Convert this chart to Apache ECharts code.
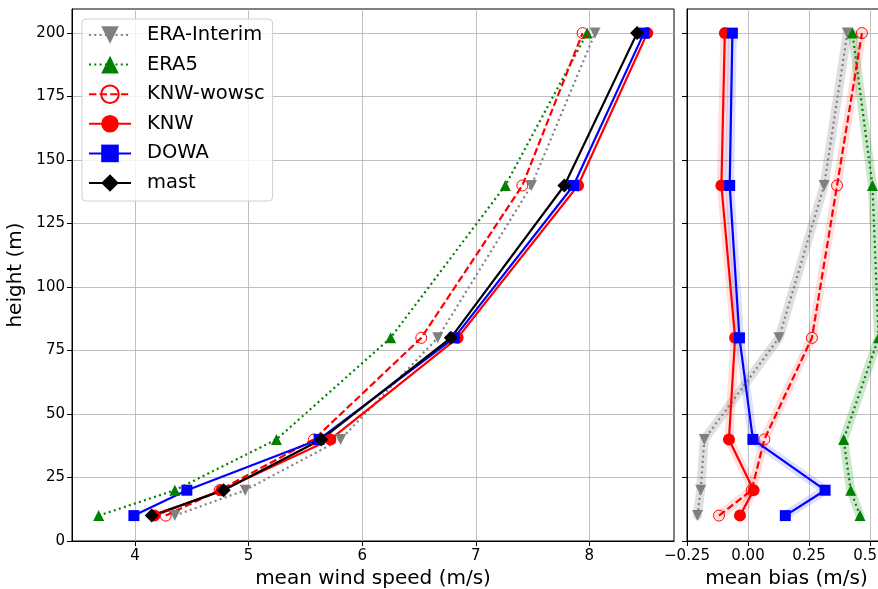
<!DOCTYPE html>
<html>
<head>
<meta charset="utf-8">
<script src="https://cdn.jsdelivr.net/npm/echarts@6/dist/echarts.min.js"></script>
<style>
html,body{margin:0;padding:0;background:#fff;}
#chart{width:878px;height:589px;}
</style>
</head>
<body>
<div id="chart"></div>
<script>
// ---- data ----
const heights = [10, 20, 40, 80, 140, 200];
const seriesNames = ['ERA-Interim', 'ERA5', 'KNW-wowsc', 'KNW', 'DOWA', 'mast'];
// mean wind speed (m/s)
const speedEraInterim = [4.35, 4.97, 5.81, 6.665, 7.49, 8.05];
const speedEra5       = [3.68, 4.35, 5.245, 6.25, 7.26, 7.98];
const speedKnwWowsc   = [4.27, 4.745, 5.575, 6.52, 7.41, 7.94];
const speedKnw        = [4.17, 4.76, 5.72, 6.84, 7.90, 8.51];
const speedDowa       = [3.99, 4.456, 5.62, 6.81, 7.86, 8.48];
const speedMast       = [4.147, 4.78, 5.64, 6.78, 7.78, 8.42];
// mean bias (m/s)
const biasEraInterim = [-0.207, -0.194, -0.179, 0.127, 0.312, 0.407];
const biasEra5       = [0.459, 0.421, 0.392, 0.535, 0.51, 0.428];
const biasKnwWowsc   = [-0.119, 0.015, 0.067, 0.262, 0.365, 0.467];
const biasKnw        = [-0.033, 0.023, -0.078, -0.053, -0.109, -0.095];
const biasDowa       = [0.153, 0.316, 0.020, -0.035, -0.075, -0.064];
// tick labels
const yTicks = [0, 25, 50, 75, 100, 125, 150, 175, 200];
const xTicksSpeed = [4, 5, 6, 7, 8];
const xTicksBias = [-0.25, 0, 0.25, 0.5];

const pts = (xs) => xs.map((x, i) => [x, heights[i]]);
const FONT = 'DejaVu Sans';

const styles = {
  'ERA-Interim': {color: '#808080', type: [2, 3.3], symbol: 'triangle', rotate: 180, size: [11, 11], fill: '#808080'},
  'ERA5':        {color: '#008000', type: [2, 3.3], symbol: 'triangle', rotate: 0, size: [11, 11], fill: '#008000'},
  'KNW-wowsc':   {color: '#ff0000', type: [7.4, 3.2], symbol: 'circle', rotate: 0, size: 11, fill: 'rgba(255,255,255,0)'},
  'KNW':         {color: '#ff0000', type: 'solid', symbol: 'circle', rotate: 0, size: 12, fill: '#ff0000'},
  'DOWA':        {color: '#0000ff', type: 'solid', symbol: 'rect', rotate: 0, size: 11, fill: '#0000ff'},
  'mast':        {color: '#000000', type: 'solid', symbol: 'diamond', rotate: 0, size: 14, fill: '#000000'}
};
const halo = {
  'ERA-Interim': 'rgba(128,128,128,0.25)',
  'ERA5': 'rgba(0,128,0,0.2)',
  'KNW-wowsc': 'rgba(255,0,0,0.13)',
  'KNW': 'rgba(255,0,0,0.13)',
  'DOWA': 'rgba(0,0,255,0.13)'
};

function mk(name, data, gi) {
  const s = styles[name];
  return {
    name: name, type: 'line', xAxisIndex: gi, yAxisIndex: gi,
    data: pts(data),
    symbol: s.symbol, symbolSize: s.size, symbolRotate: s.rotate,
    showAllSymbol: true,
    lineStyle: {color: s.color, width: 2.2, type: s.type, cap: 'butt'},
    itemStyle: {color: s.fill, borderColor: s.color, borderWidth: name === 'KNW-wowsc' ? 1 : 0, opacity: 1},
    emphasis: {disabled: true},
    animation: false,
    z: 3
  };
}
function mkHalo(name, data) {
  return {
    type: 'line', xAxisIndex: 1, yAxisIndex: 1, data: pts(data),
    symbol: 'none', silent: true,
    lineStyle: {color: halo[name], width: 9, cap: 'round', join: 'round'},
    emphasis: {disabled: true}, animation: false, z: 2
  };
}

const leftSeries = [
  mk('ERA-Interim', speedEraInterim, 0),
  mk('ERA5', speedEra5, 0),
  mk('KNW-wowsc', speedKnwWowsc, 0),
  mk('KNW', speedKnw, 0),
  mk('DOWA', speedDowa, 0),
  mk('mast', speedMast, 0)
];
const rightData = [
  ['ERA-Interim', biasEraInterim],
  ['ERA5', biasEra5],
  ['KNW-wowsc', biasKnwWowsc],
  ['KNW', biasKnw],
  ['DOWA', biasDowa]
];
const rightSeries = [];
rightData.forEach(([n, d]) => rightSeries.push(mkHalo(n, d)));
rightData.forEach(([n, d]) => rightSeries.push(mk(n, d, 1)));

const axisCommon = {
  type: 'value',
  axisLine: {show: true, onZero: false, lineStyle: {color: '#000', width: 1}},
  axisTick: {show: true, inside: false, length: 5, lineStyle: {color: '#000', width: 1}},
  splitLine: {show: true, lineStyle: {color: '#b0b0b0', width: 0.8}},
  axisLabel: {fontFamily: FONT, fontSize: 15, color: '#000'},
  nameTextStyle: {fontFamily: FONT, fontSize: 20, color: '#000'}
};
function ax(extra) {
  const a = JSON.parse(JSON.stringify(axisCommon));
  for (const k in extra) {
    if (typeof extra[k] === 'object' && !Array.isArray(extra[k]) && a[k]) Object.assign(a[k], extra[k]);
    else a[k] = extra[k];
  }
  return a;
}

const fmtBias = (v) => {
  const s = Math.abs(v) === 0.5 ? '0.50' : Math.abs(v).toFixed(2);
  return (v < 0 ? '\u2212' : '') + s;
};

const option = {
  backgroundColor: '#fff',
  animation: false,
  grid: [
    {left: 72, top: 9, width: 602, height: 532, show: true, borderColor: '#000', borderWidth: 1,
     backgroundColor: 'transparent', containLabel: false, outerBoundsMode: 'none'},
    {left: 687, top: 9, width: 193, height: 532, show: true, borderColor: '#000', borderWidth: 1,
     backgroundColor: 'transparent', containLabel: false, outerBoundsMode: 'none'}
  ],
  xAxis: [
    ax({gridIndex: 0, min: 3.445, max: 8.745,
        axisTick: {customValues: xTicksSpeed},
        axisLabel: {customValues: xTicksSpeed, margin: 8},
        name: 'mean wind speed (m/s)', nameLocation: 'middle', nameGap: 26}),
    ax({gridIndex: 1, min: -0.25, max: 0.541,
        axisTick: {customValues: xTicksBias},
        axisLabel: {customValues: xTicksBias, margin: 8, formatter: fmtBias, hideOverlap: false},
        name: 'mean bias (m/s)', nameLocation: 'middle', nameGap: 26,
        nameTextStyle: {padding: [0, 0, 0, 6]}})
  ],
  yAxis: [
    ax({gridIndex: 0, min: 0, max: 209.5,
        axisTick: {customValues: yTicks},
        axisLabel: {customValues: yTicks, margin: 7},
        name: 'height (m)', nameLocation: 'middle', nameGap: 35}),
    ax({gridIndex: 1, min: 0, max: 209.5,
        axisTick: {customValues: yTicks},
        axisLabel: {show: false, customValues: yTicks}})
  ],
  legend: {
    data: seriesNames,
    orient: 'vertical',
    left: 82, top: 19,
    itemWidth: 42, itemHeight: 22, itemGap: 9.6,
    padding: [6, 8, 8, 6],
    backgroundColor: 'rgba(255,255,255,0.8)',
    borderColor: '#d0d0d0', borderWidth: 1, borderRadius: 4,
    textStyle: {fontFamily: FONT, fontSize: 19.5, color: '#000', padding: [0, 0, 0, 11]},
    selectedMode: false,
    z: 10
  },
  series: leftSeries.concat(rightSeries)
};

const chart = echarts.init(document.getElementById('chart'), null, {renderer: 'canvas'});
chart.setOption(option);
</script>
</body>
</html>
